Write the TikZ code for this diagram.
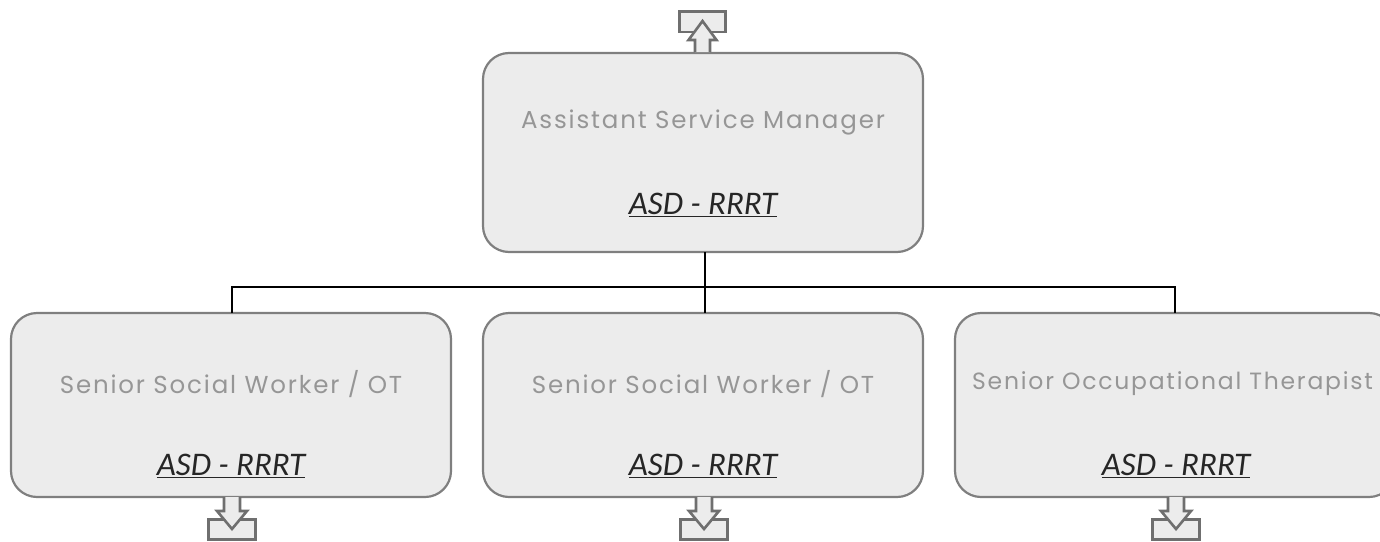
\documentclass[tikz,border=0pt]{standalone}
\usepackage{fontspec}
\setmainfont{Carlito}
\newfontfamily\titlefont[LetterSpace=7.5]{Poppins}
\tikzset{
  box/.style={draw=boxline, fill=boxfill, line width=2.2pt, rounded corners=26pt, minimum width=440pt, inner sep=0pt},
  titletext/.style={font=\titlefont\fontsize{24.5}{28}\selectfont, text=titlegray, inner sep=0pt},
  unittext/.style={font=\fontsize{33}{38}\selectfont\itshape, text=unitdark, inner sep=0pt},
  icon/.style={draw=icongray, fill=boxfill, line width=2.6pt},
  conn/.style={draw=black, line width=2pt}
}
\definecolor{boxline}{HTML}{7F7F7F}
\definecolor{boxfill}{HTML}{ECECEC}
\definecolor{titlegray}{HTML}{969696}
\definecolor{unitdark}{HTML}{262626}
\definecolor{icongray}{HTML}{6F6F6F}
\begin{document}
\begin{tikzpicture}[x=1pt,y=-1pt]
\useasboundingbox (0,0) rectangle (1380,541);
\clip (0,0) rectangle (1380,541);
% boxes
\node[box, minimum height=199pt] (top) at (703,152.5) {};
\node[box, minimum height=184pt] (b1) at (231,405) {};
\node[box, minimum height=184pt] (b2) at (703,405) {};
\node[box, minimum height=184pt] (b3) at (1175,405) {};
% connectors
\coordinate (j) at (705,287);
\draw[conn] (705,252) -- (j);
\draw[conn] (232,313) |- (1175,287) -- (1175,313);
\draw[conn] (705,287) -- (705,313);
% texts
\node[titletext] (t0) at (703,122) {Assistant Service Manager};
\node[unittext] (u0) at (703,205) {\underline{ASD - RRRT}};
\node[titletext] (t1) at (231,384) {Senior Social Worker / OT};
\node[unittext] (u1) at (231,466) {\underline{ASD - RRRT}};
\node[titletext] (t2) at (703,384) {Senior Social Worker / OT};
\node[unittext] (u2) at (703,466) {\underline{ASD - RRRT}};
\node[titletext, font=\titlefont\fontsize{23.5}{27}\selectfont, anchor=west] (t3) at (972,384) {Senior Occupational Therapist};
\node[unittext] (u3) at (1176,466) {\underline{ASD - RRRT}};
% top icon
\draw[icon] (679.5,11.5) rectangle (725.5,32);
\draw[icon] (695,52) -- (695,40) -- (688.5,40) -- (702.5,21) -- (716.5,40) -- (710,40) -- (710,52);
% bottom icons
\foreach \cx/\nm in {232/i1,704/i2,1176/i3}{
  \draw[icon] (\cx-23.5,519.5) rectangle (\cx+23.5,539.5);
  \draw[icon] (\cx-8,497) -- (\cx-8,511) -- (\cx-15,511) -- (\cx,529) -- (\cx+15,511) -- (\cx+8,511) -- (\cx+8,497);
}
\end{tikzpicture}
\end{document}
